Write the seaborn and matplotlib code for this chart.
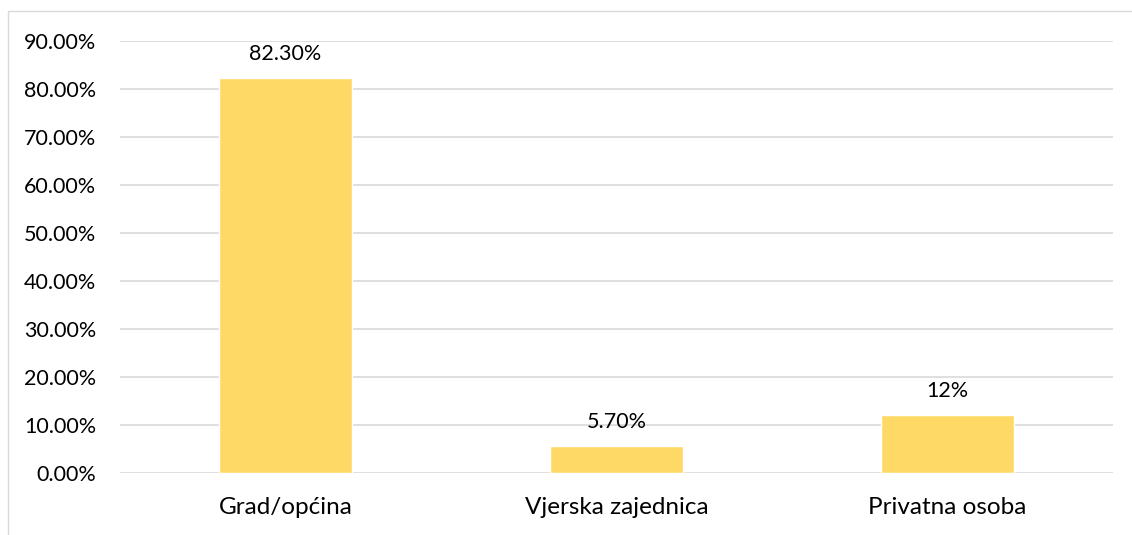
import matplotlib
matplotlib.use("Agg")
import matplotlib.pyplot as plt
import seaborn as sns
import pandas as pd
from matplotlib.patches import Rectangle
from matplotlib.ticker import PercentFormatter

# Podaci
kategorije = ["Grad/općina", "Vjerska zajednica", "Privatna osoba"]
udjeli = [0.823, 0.057, 0.12]
oznake = ["82.30%", "5.70%", "12%"]
y_ticks = [0.0, 0.1, 0.2, 0.3, 0.4, 0.5, 0.6, 0.7, 0.8, 0.9]

df = pd.DataFrame({"kategorija": kategorije, "udio": udjeli})

sns.set_theme(style="white")
plt.rcParams["font.family"] = ["Lato", "DejaVu Sans"]

fig = plt.figure(figsize=(11.32, 5.35), dpi=100)
ax = fig.add_axes([120 / 1132, 1 - 473 / 535, (1113 - 120) / 1132, (473 - 41) / 535])

# okvir grafikona (kao u Excelu)
fig.patches.append(Rectangle((8 / 1132, -0.1), 1.2, 1 - 11 / 535 + 0.1,
                             transform=fig.transFigure, fill=False,
                             edgecolor="#D9D9D9", linewidth=1.0))

sns.barplot(data=df, x="kategorija", y="udio", color="#FFD966",
            width=0.40, saturation=1, ax=ax, zorder=2)

ax.set_ylim(0, 0.9)
ax.set_xlim(-0.5, 2.5)
ax.set_yticks(y_ticks)
ax.yaxis.set_major_formatter(PercentFormatter(1.0, decimals=2))
ax.yaxis.grid(True, color="#D9D9D9", linewidth=1.2, zorder=0)
ax.set_axisbelow(True)
for s in ax.spines.values():
    s.set_visible(False)
ax.set_xlabel("")
ax.set_ylabel("")
ax.tick_params(axis="y", length=0, pad=17, labelsize=15.5, labelcolor="#000000")
ax.tick_params(axis="x", length=0, pad=17, labelsize=17.5, labelcolor="#000000")

for i, (v, t) in enumerate(zip(udjeli, oznake)):
    ax.annotate(t, (i, v), xytext=(0, 13), textcoords="offset points",
                ha="center", va="baseline", fontsize=15.5, color="#000000")

plt.savefig("out.png", dpi=100, facecolor="white")
